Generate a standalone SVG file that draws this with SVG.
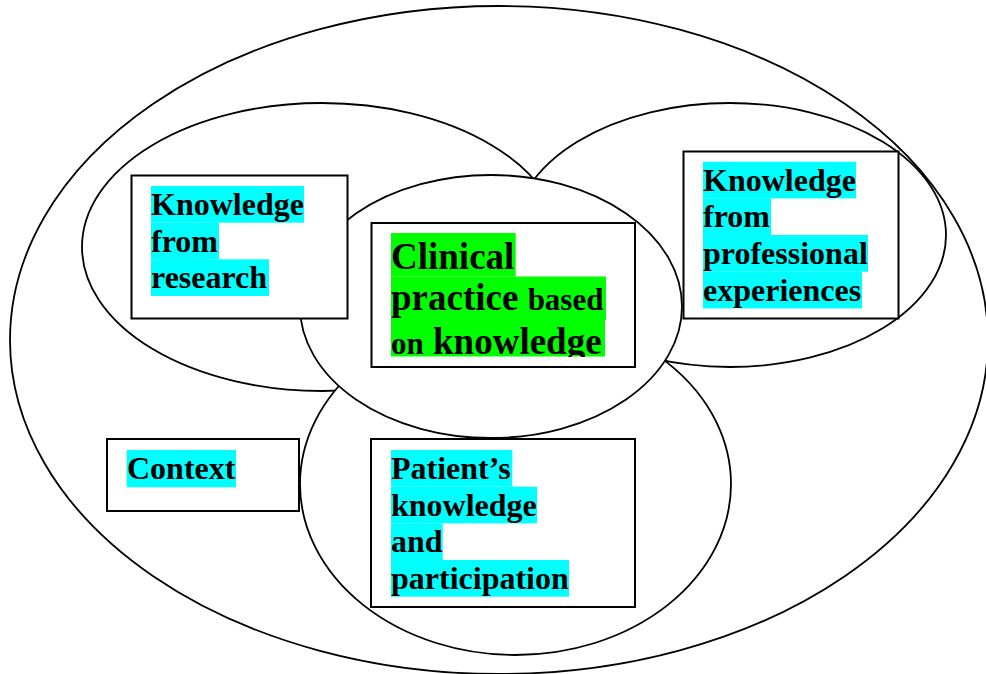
<svg xmlns="http://www.w3.org/2000/svg" width="986" height="674" viewBox="0 0 986 674">
<style>
.ell{fill:#fff;stroke:#000;stroke-width:1.8}
.box{fill:#fff;stroke:#000;stroke-width:2}
.t{font-family:"Liberation Serif","Times New Roman",serif;font-weight:bold;font-size:32px;fill:#000}
.big{font-size:37px}
.mid{font-size:31px}
.cy{fill:#00ffff}
.gr{fill:#00ff00}
</style>
<defs>
<clipPath id="clinClip"><rect x="371" y="223" width="264" height="134"/></clipPath>
</defs>
<rect width="986" height="674" fill="#fff"/>
<g id="circles">
<ellipse id="context-ellipse" class="ell" cx="499" cy="340" rx="489" ry="334"/>
<ellipse id="research-ellipse" class="ell" cx="322" cy="247" rx="240" ry="144"/>
<ellipse id="professional-ellipse" class="ell" cx="730" cy="235" rx="216" ry="132"/>
<ellipse id="patient-ellipse" class="ell" cx="515.5" cy="484" rx="215.5" ry="171"/>
<ellipse id="clinical-ellipse" class="ell" cx="491" cy="306.5" rx="191" ry="131.5"/>
</g>
<g id="research">
<rect class="box" x="131.5" y="175.5" width="216" height="143"/>
<rect class="cy" x="151" y="186" width="153" height="36.7"/>
<rect class="cy" x="151" y="222.7" width="68" height="36.7"/>
<rect class="cy" x="151" y="259.3" width="118" height="36.7"/>
<text class="t" x="151" y="215">Knowledge</text>
<text class="t" x="151" y="251.7">from</text>
<text class="t" x="151" y="288.3">research</text>
</g>
<g id="professional">
<rect class="box" x="683.5" y="151.5" width="215" height="167"/>
<rect class="cy" x="703" y="161.7" width="153" height="36.7"/>
<rect class="cy" x="703" y="198.3" width="68" height="36.7"/>
<rect class="cy" x="703" y="235" width="165" height="36.7"/>
<rect class="cy" x="703" y="271.7" width="159" height="36.7"/>
<text class="t" x="703" y="190.7">Knowledge</text>
<text class="t" x="703" y="227.3">from</text>
<text class="t" x="703" y="264">professional</text>
<text class="t" x="703" y="300.7">experiences</text>
</g>
<g id="clinical">
<rect class="box" x="371.5" y="223" width="263.5" height="144"/>
<g clip-path="url(#clinClip)">
<rect class="gr" x="391" y="233" width="124.7" height="43.5"/>
<rect class="gr" x="391" y="276.5" width="215" height="43.5"/>
<rect class="gr" x="391" y="320" width="214" height="36.5"/>
<text class="t big" x="391" y="268.5">Clinical</text>
<text class="t big" x="391" y="310">practice <tspan class="mid">based</tspan></text>
<text class="t big" x="391" y="354"><tspan class="mid">on</tspan> knowledge</text>
</g>
</g>
<g id="context">
<rect class="box" x="107" y="439" width="192" height="72"/>
<rect class="cy" x="126.7" y="450" width="109.3" height="37.3"/>
<text class="t" x="127" y="479">Context</text>
</g>
<g id="patient">
<rect class="box" x="371" y="439" width="264" height="168"/>
<rect class="cy" x="391" y="450" width="121.3" height="36.7"/>
<rect class="cy" x="391" y="486.7" width="146" height="36.7"/>
<rect class="cy" x="391" y="523.3" width="51.7" height="36.7"/>
<rect class="cy" x="391" y="560" width="178" height="36.7"/>
<text class="t" x="391" y="479">Patient’s</text>
<text class="t" x="391" y="515.7">knowledge</text>
<text class="t" x="391" y="552.3">and</text>
<text class="t" x="391" y="589">participation</text>
</g>
</svg>
